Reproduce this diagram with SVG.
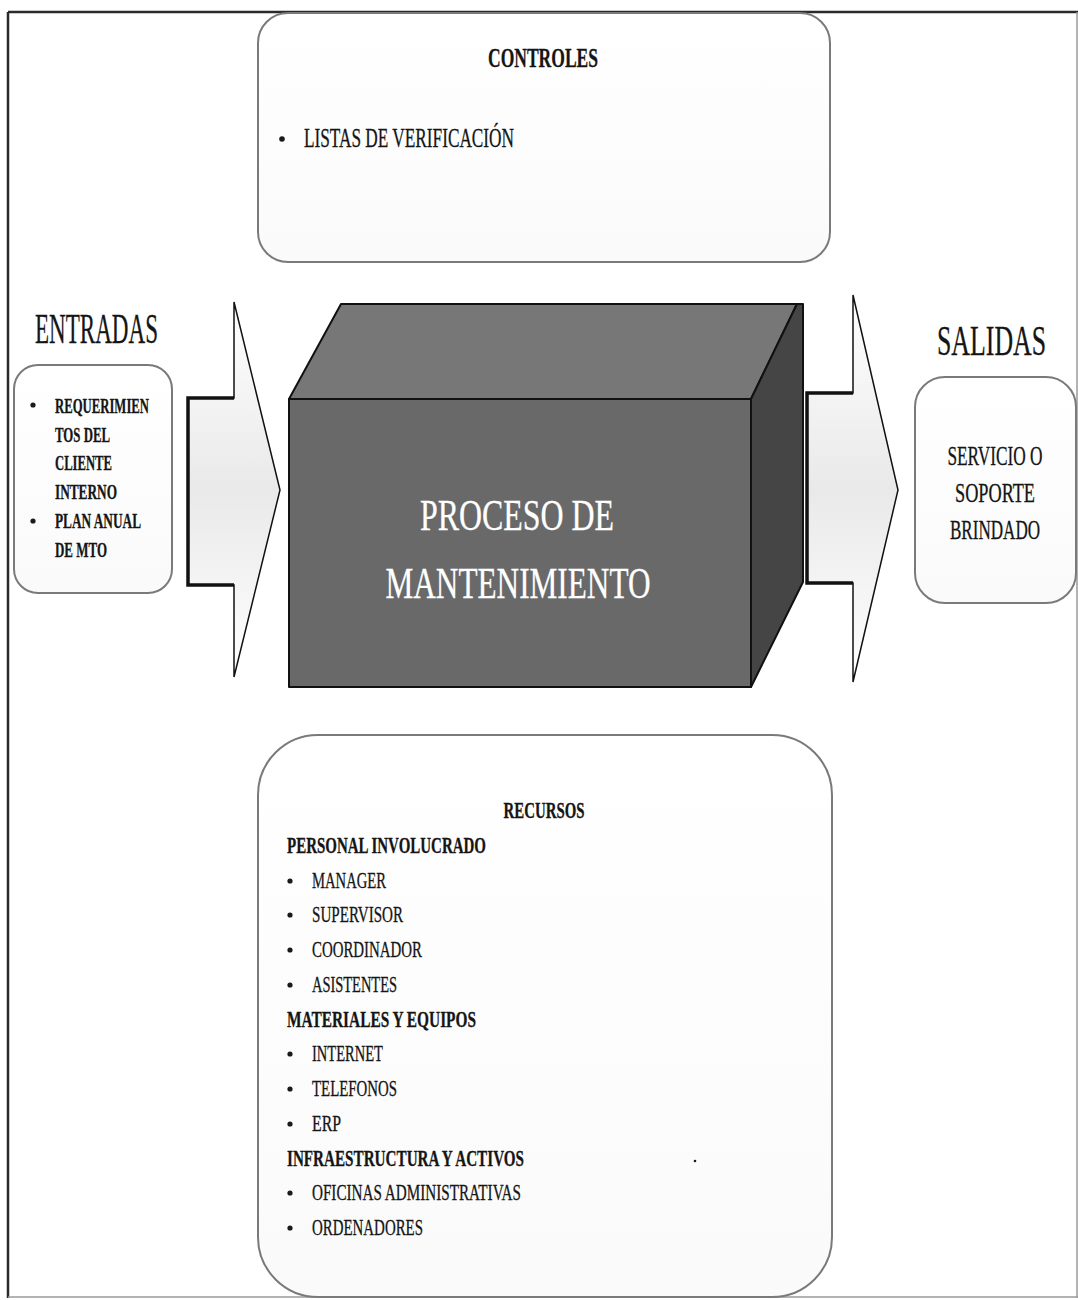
<svg xmlns="http://www.w3.org/2000/svg" width="1078" height="1300" viewBox="0 0 1078 1300">
<defs>
<linearGradient id="arrowFill" x1="0" y1="0" x2="0" y2="1">
<stop offset="0" stop-color="#ffffff"/>
<stop offset="0.5" stop-color="#e9e9e9"/>
<stop offset="1" stop-color="#ffffff"/>
</linearGradient>
<linearGradient id="boxFill" x1="0" y1="0" x2="0" y2="1">
<stop offset="0" stop-color="#ffffff"/>
<stop offset="1" stop-color="#fafafa"/>
</linearGradient>
<style>
.rbox{fill:url(#boxFill);stroke:#7a7a7a;stroke-width:2;}
.arrow{fill:url(#arrowFill);stroke:#111;stroke-width:1.5;stroke-linejoin:miter;}
.shaft{fill:none;stroke:#111;stroke-width:3.5;}
.t{font-family:"Liberation Serif","Times New Roman",serif;fill:#151515;stroke:#151515;stroke-width:0.3;}
.b{font-weight:bold;}
.w{fill:#ffffff;stroke:#ffffff;stroke-width:0.3;}
.bul{fill:#1a1a1a;}
.edge{stroke:#111;stroke-width:2;stroke-linejoin:round;}
</style>
</defs>
<rect x="0" y="0" width="1078" height="1300" fill="#ffffff"/>
<g id="frame">
<line x1="8" y1="12" x2="1078" y2="12" stroke="#2a2a2a" stroke-width="2.5"/>
<line x1="8" y1="12" x2="8" y2="1298" stroke="#2a2a2a" stroke-width="2.5"/>
<line x1="1077" y1="12" x2="1077" y2="1298" stroke="#9a9a9a" stroke-width="1.5"/>
<line x1="8" y1="1297" x2="1078" y2="1297" stroke="#9a9a9a" stroke-width="1.5"/>
</g>
<g id="connectors">
<g id="arrow-in">
<polygon class="arrow" points="188,398 234,398 234,302 280,490 234,677 234,585 188,585"/>
<polyline class="shaft" points="234,398 188,398 188,585 234,585"/>
</g>
<g id="arrow-out">
<polygon class="arrow" points="807,393 853,393 853,295 898,490 853,682 853,583 807,583"/>
<polyline class="shaft" points="853,393 807,393 807,583 853,583"/>
</g>
</g>
<g id="controles">
<rect class="rbox" x="258" y="13" width="572" height="249" rx="30" ry="30"/>
<text class="t b" x="543" y="67" font-size="28" text-anchor="middle" textLength="110" lengthAdjust="spacingAndGlyphs">CONTROLES</text>
<circle class="bul" cx="282" cy="139" r="2.8"/>
<text class="t" x="304" y="147" font-size="28" textLength="210" lengthAdjust="spacingAndGlyphs">LISTAS DE VERIFICACIÓN</text>
</g>
<g id="entradas">
<text class="t" x="35" y="343" font-size="42" textLength="123" lengthAdjust="spacingAndGlyphs">ENTRADAS</text>
<rect class="rbox" x="14" y="365" width="158" height="228" rx="24" ry="24"/>
<circle class="bul" cx="33" cy="405" r="2.6"/>
<text class="t b" x="55" y="413" font-size="21" textLength="94" lengthAdjust="spacingAndGlyphs">REQUERIMIEN</text>
<text class="t b" x="55" y="442" font-size="21" textLength="55" lengthAdjust="spacingAndGlyphs">TOS DEL</text>
<text class="t b" x="55" y="470" font-size="21" textLength="57" lengthAdjust="spacingAndGlyphs">CLIENTE</text>
<text class="t b" x="55" y="499" font-size="21" textLength="62" lengthAdjust="spacingAndGlyphs">INTERNO</text>
<circle class="bul" cx="33" cy="521" r="2.6"/>
<text class="t b" x="55" y="528" font-size="21" textLength="86" lengthAdjust="spacingAndGlyphs">PLAN ANUAL</text>
<text class="t b" x="55" y="557" font-size="21" textLength="52" lengthAdjust="spacingAndGlyphs">DE MTO</text>
</g>
<g id="proceso">
<polygon class="edge" fill="#777777" points="289,399 341,304 797,304 751,399"/>
<polygon class="edge" fill="#454545" points="751,399 797,304 803,304 803,582 751,687"/>
<polygon class="edge" fill="#696969" points="289,399 751,399 751,687 289,687"/>
<text class="t w" x="517" y="530" font-size="45" text-anchor="middle" textLength="194" lengthAdjust="spacingAndGlyphs">PROCESO DE</text>
<text class="t w" x="518" y="598" font-size="45" text-anchor="middle" textLength="265" lengthAdjust="spacingAndGlyphs">MANTENIMIENTO</text>
</g>
<g id="salidas">
<text class="t" font-size="42" transform="translate(937,355) scale(0.615,1)" x="0" y="0">SALIDAS</text>
<rect class="rbox" x="915" y="377" width="161" height="226" rx="30" ry="30"/>
<text class="t" font-size="27" text-anchor="middle" transform="translate(995,465) scale(0.63,1)" x="0" y="0" textLength="151" lengthAdjust="spacingAndGlyphs">SERVICIO O</text>
<text class="t" font-size="27" text-anchor="middle" transform="translate(995,502) scale(0.63,1)" x="0" y="0" textLength="127" lengthAdjust="spacingAndGlyphs">SOPORTE</text>
<text class="t" font-size="27" text-anchor="middle" transform="translate(995,539) scale(0.63,1)" x="0" y="0" textLength="143" lengthAdjust="spacingAndGlyphs">BRINDADO</text>
</g>
<g id="recursos">
<rect class="rbox" x="258" y="735" width="574" height="562" rx="60" ry="60"/>
<text class="t b" x="544" y="818" font-size="23" text-anchor="middle" textLength="81" lengthAdjust="spacingAndGlyphs">RECURSOS</text>
<text class="t b" x="287" y="853" font-size="24" textLength="199" lengthAdjust="spacingAndGlyphs">PERSONAL INVOLUCRADO</text>
<circle class="bul" cx="290" cy="881" r="2.6"/>
<text class="t" x="312" y="888" font-size="23" textLength="74" lengthAdjust="spacingAndGlyphs">MANAGER</text>
<circle class="bul" cx="290" cy="915" r="2.6"/>
<text class="t" x="312" y="922" font-size="23" textLength="91" lengthAdjust="spacingAndGlyphs">SUPERVISOR</text>
<circle class="bul" cx="290" cy="950" r="2.6"/>
<text class="t" x="312" y="957" font-size="23" textLength="110" lengthAdjust="spacingAndGlyphs">COORDINADOR</text>
<circle class="bul" cx="290" cy="985" r="2.6"/>
<text class="t" x="312" y="992" font-size="23" textLength="85" lengthAdjust="spacingAndGlyphs">ASISTENTES</text>
<text class="t b" x="287" y="1027" font-size="24" textLength="189" lengthAdjust="spacingAndGlyphs">MATERIALES Y EQUIPOS</text>
<circle class="bul" cx="290" cy="1054" r="2.6"/>
<text class="t" x="312" y="1061" font-size="23" textLength="71" lengthAdjust="spacingAndGlyphs">INTERNET</text>
<circle class="bul" cx="290" cy="1089" r="2.6"/>
<text class="t" x="312" y="1096" font-size="23" textLength="85" lengthAdjust="spacingAndGlyphs">TELEFONOS</text>
<circle class="bul" cx="290" cy="1124" r="2.6"/>
<text class="t" x="312" y="1131" font-size="23" textLength="29" lengthAdjust="spacingAndGlyphs">ERP</text>
<text class="t b" x="287" y="1166" font-size="24" textLength="237" lengthAdjust="spacingAndGlyphs">INFRAESTRUCTURA Y ACTIVOS</text>
<circle class="bul" cx="290" cy="1193" r="2.6"/>
<text class="t" x="312" y="1200" font-size="23" textLength="209" lengthAdjust="spacingAndGlyphs">OFICINAS ADMINISTRATIVAS</text>
<circle class="bul" cx="290" cy="1228" r="2.6"/>
<text class="t" x="312" y="1235" font-size="23" textLength="111" lengthAdjust="spacingAndGlyphs">ORDENADORES</text>
<circle class="bul" cx="695" cy="1161" r="1.3"/>
</g>
</svg>
